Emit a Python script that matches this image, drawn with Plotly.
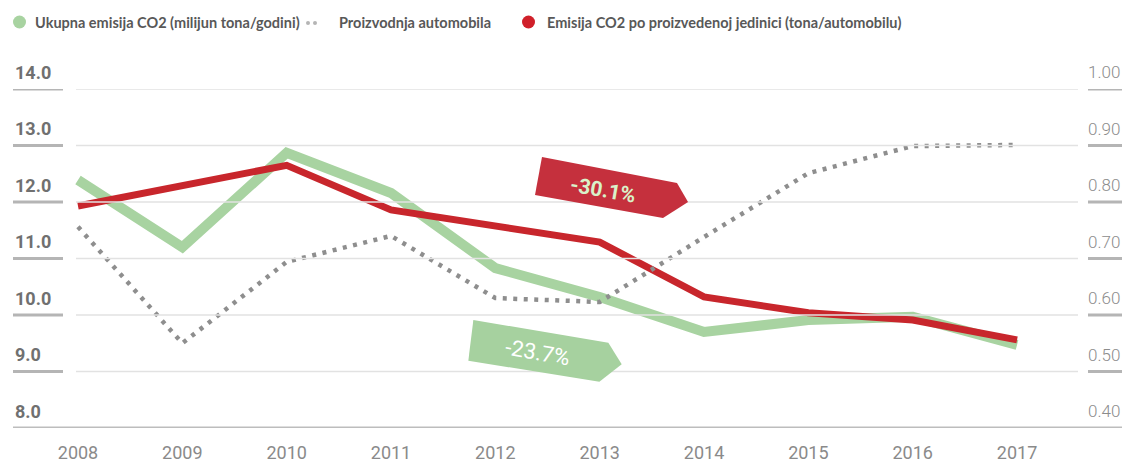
import plotly.graph_objects as go

# data
godine = [2008, 2009, 2010, 2011, 2012, 2013, 2014, 2015, 2016, 2017]
ukupna_emisija = [12.39, 11.20, 12.87, 12.16, 10.83, 10.32, 9.70, 9.91, 9.97, 9.47]
proizvodnja = [0.756, 0.550, 0.694, 0.740, 0.630, 0.623, 0.738, 0.851, 0.899, 0.901]
emisija_po_jedinici = [0.793, 0.829, 0.865, 0.786, 0.756, 0.729, 0.632, 0.604, 0.591, 0.556]

lijeve_oznake = [8, 9, 10, 11, 12, 13, 14]
desne_oznake = [0.40, 0.50, 0.60, 0.70, 0.80, 0.90, 1.00]

naziv_ukupna = 'Ukupna emisija CO2 (milijun tona/godini)'
naziv_proizvodnja = 'Proizvodnja automobila'
naziv_jedinica = 'Emisija CO2 po proizvedenoj jedinici (tona/automobilu)'

promjena_jedinica = '-30.1%'
promjena_ukupna = '-23.7%'

ZELENA = '#a8d3a1'
CRVENA = '#c8262c'
SIVA = '#8e8e8e'

# plot area in pixels
PL, PR, PT, PB = 13, 1122, 89, 428


def px_x(p):
    return (p - PL) / (PR - PL)


def px_y(p):
    return (PB - p) / (PB - PT)


traces = []
traces.append(go.Scatter(x=godine, y=ukupna_emisija, mode='lines', name=naziv_ukupna,
                         line=dict(color=ZELENA, width=10), yaxis='y'))
traces.append(go.Scatter(x=godine, y=emisija_po_jedinici, mode='lines', name=naziv_jedinica,
                         line=dict(color=CRVENA, width=7), yaxis='y2'))
traces.append(go.Scatter(x=godine, y=proizvodnja, mode='lines', name=naziv_proizvodnja,
                         line=dict(color=SIVA, width=4.5, dash='4px,6.5px'), yaxis='y2'))

shapes = []
for v in lijeve_oznake:
    if v == lijeve_oznake[0]:
        shapes.append(dict(type='line', xref='paper', yref='y', x0=0, x1=1, y0=v, y1=v,
                           line=dict(color='#bdbdbd', width=3)))
        continue
    shapes.append(dict(type='line', xref='paper', yref='y', x0=px_x(76), x1=px_x(1078), y0=v, y1=v,
                       line=dict(color='#e2e2e2', width=1.5)))
    shapes.append(dict(type='line', xref='paper', yref='y', x0=0, x1=px_x(63), y0=v, y1=v,
                       line=dict(color='#b5b5b5', width=3)))
    shapes.append(dict(type='line', xref='paper', yref='y', x0=px_x(1088), x1=1, y0=v, y1=v,
                       line=dict(color='#b5b5b5', width=3)))

# callout boxes
shapes.append(dict(type='path', xref='x', yref='y', layer='above',
                   path='M 2012.447,12.796 L 2013.741,12.336 L 2013.847,12.0 L 2013.607,11.717 L 2012.380,12.124 Z',
                   fillcolor='#c5303d', line=dict(width=0)))
shapes.append(dict(type='path', xref='x', yref='y', layer='above',
                   path='M 2011.789,9.912 L 2013.083,9.510 L 2013.211,9.127 L 2012.997,8.819 L 2011.741,9.191 Z',
                   fillcolor='#a6d19f', line=dict(width=0)))

# legend symbols
def krug(cx, cy, r, boja):
    return dict(type='circle', xref='paper', yref='paper',
                x0=px_x(cx - r), x1=px_x(cx + r), y0=px_y(cy + r), y1=px_y(cy - r),
                fillcolor=boja, line=dict(width=0))


shapes.append(krug(19.5, 22, 6.5, ZELENA))
shapes.append(krug(308, 23, 2, '#b5b5b5'))
shapes.append(krug(315, 23, 2, '#b5b5b5'))
shapes.append(krug(528.5, 22, 6.5, '#d0202a'))

legend_font = dict(family='Lato', size=14.5, color='#585858', weight='bold')
annotations = [
    dict(x=2013.03, y=12.21, xref='x', yref='y', text=promjena_jedinica, showarrow=False, textangle=10,
         font=dict(family='Roboto', size=21, color='#d9f2c9', weight='bold')),
    dict(x=2012.40, y=9.33, xref='x', yref='y', text=promjena_ukupna, showarrow=False, textangle=10,
         font=dict(family='Roboto', size=22, color='#ffffff')),
]
for tekst, lijevo in [(naziv_ukupna, 33), (naziv_proizvodnja, 337), (naziv_jedinica, 545)]:
    annotations.append(dict(x=px_x(lijevo), y=px_y(22), xref='paper', yref='paper', text=tekst,
                            showarrow=False, xanchor='left', yanchor='middle', font=legend_font))

# y-axis labels sit above their grid lines
for v in lijeve_oznake:
    annotations.append(dict(x=0, y=v, xref='paper', yref='y', text=f'{v:.1f}', showarrow=False,
                            xanchor='left', yanchor='middle', yshift=17,
                            font=dict(family='Roboto', size=18, color='#707070', weight='bold')))
for v in desne_oznake:
    annotations.append(dict(x=1, y=v, xref='paper', yref='y2', text=f'{v:.2f}', showarrow=False,
                            xanchor='right', yanchor='middle', yshift=17,
                            font=dict(family='Roboto', size=17, color='#8c8c8c', weight=300)))

layout = go.Layout(
    width=1132, height=464,
    margin=dict(l=PL, r=1132 - PR, t=PT, b=464 - PB, autoexpand=False),
    paper_bgcolor='white', plot_bgcolor='white',
    showlegend=False,
    xaxis=dict(range=[2007.377, 2018.006], tickvals=godine, ticktext=[str(g) for g in godine],
               showgrid=False, zeroline=False, showline=False, ticklabelstandoff=12, automargin=False,
               tickfont=dict(family='Roboto', size=18, color='#8a8a8a')),
    yaxis=dict(range=[8, 14], showticklabels=False, showgrid=False, zeroline=False,
               showline=False, automargin=False),
    yaxis2=dict(range=[0.4, 1.0], overlaying='y', side='right', showticklabels=False,
                showgrid=False, zeroline=False, showline=False, automargin=False),
    shapes=shapes,
    annotations=annotations,
)

fig = go.Figure(data=traces, layout=layout)
fig.write_html('out.html', config={'displayModeBar': False},
               post_script="document.body.style.margin='0';")
